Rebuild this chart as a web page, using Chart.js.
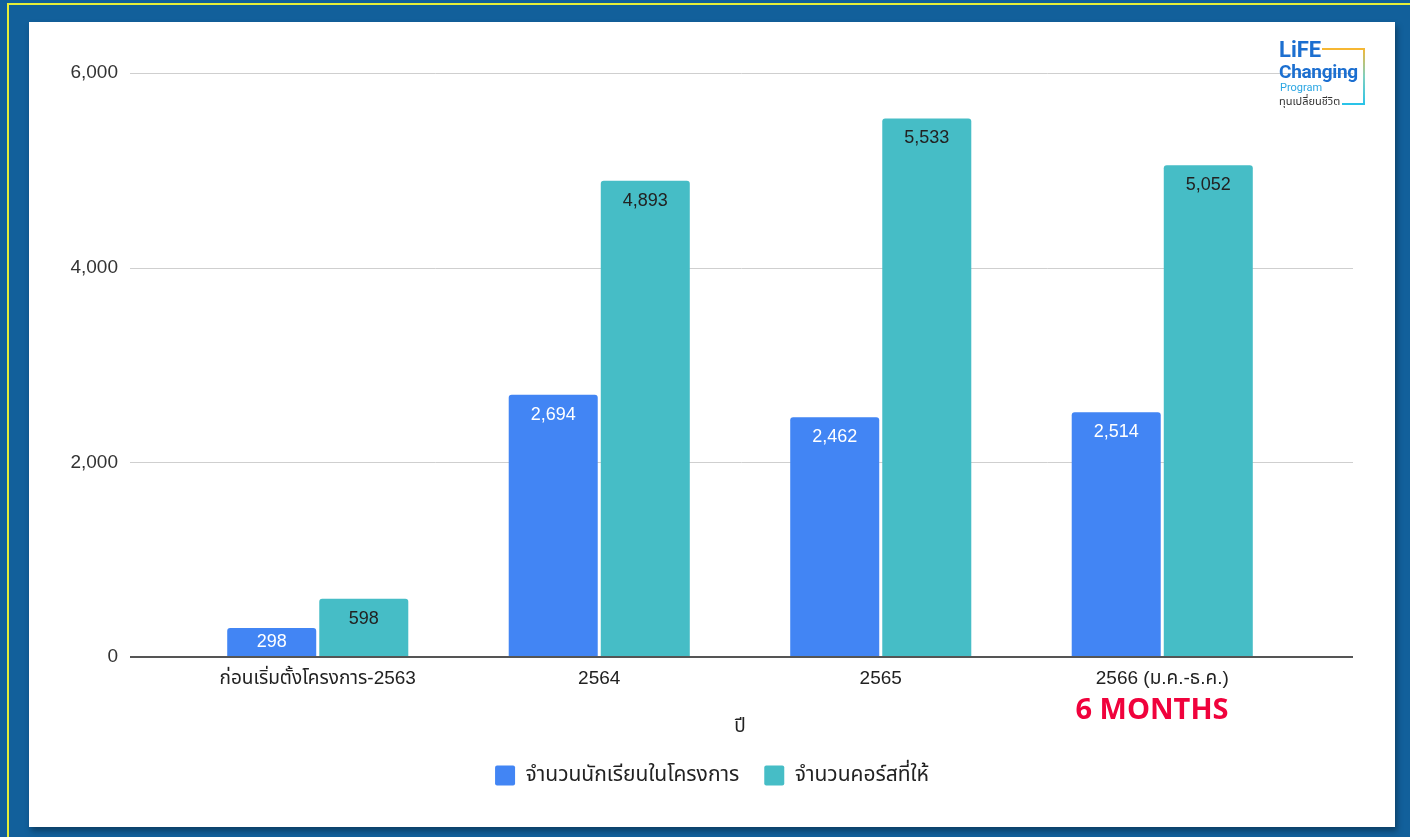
<!DOCTYPE html>
<html>
<head>
<meta charset="utf-8">
<script src="https://cdn.jsdelivr.net/npm/chart.js@4.4.0/dist/chart.umd.min.js"></script>
<style>
  html, body { margin:0; padding:0; }
  body { width:1410px; height:837px; background:#12609b; position:relative; overflow:hidden; font-family:"Liberation Sans", Arial, sans-serif; }
  #frame { position:absolute; left:7px; top:3px; width:1450px; height:900px; border:2px solid #e6ef3a; box-sizing:border-box; }
  #panel { position:absolute; left:29px; top:22px; width:1366px; height:805px; background:#fff; box-shadow:2px 4px 6px rgba(0,0,0,0.35); }
  #c { position:absolute; left:0; top:0; }
  #months { position:absolute; left:1053px; top:666px; width:140px; text-align:center; font-family:"Open Sans", sans-serif; font-weight:700; font-size:29px; color:#f0023c; white-space:nowrap; display:flex; justify-content:center; }
  #logo { position:absolute; left:1250px; top:17px; width:90px; height:90px; }
  .lg1 { position:absolute; left:0; top:0; font-family:"Roboto", Arial, sans-serif; font-weight:700; font-size:22px; color:#1c6fd0; line-height:22px; }
  .lg2 { position:absolute; left:0; top:22px; font-family:"Roboto", Arial, sans-serif; font-weight:700; font-size:19px; color:#1c6fd0; line-height:22px; letter-spacing:-0.3px; }
  .lg3 { position:absolute; left:1px; top:43px; font-family:"Roboto", Arial, sans-serif; font-size:11px; color:#2aa6e3; line-height:12px; }
  .lg4 { position:absolute; left:0px; top:56px; font-family:"Noto Sans Thai","Noto Sans", sans-serif; font-size:11px; color:#333; line-height:14px; white-space:nowrap; }
  .ln-top { position:absolute; left:43px; top:9px; width:43px; height:2px; background:#f6b733; }
  .ln-right { position:absolute; left:84px; top:9px; width:2px; height:57px; background:linear-gradient(#f6b733,#7fd0c0,#2ac3e8); }
  .ln-bot { position:absolute; left:63px; top:64px; width:23px; height:2px; background:#2ac3e8; }
</style>
</head>
<body>
<div id="frame"></div>
<div id="panel">
  <canvas id="c" width="1366" height="805"></canvas>
  <div id="months">6 MONTHS</div>
  <div id="logo">
    <div class="ln-top"></div><div class="ln-right"></div><div class="ln-bot"></div>
    <div class="lg1">LiFE</div>
    <div class="lg2">Changing</div>
    <div class="lg3">Program</div>
    <div class="lg4">ทุนเปลี่ยนชีวิต</div>
  </div>
</div>
<script>
const categories = ["ก่อนเริ่มตั้งโครงการ-2563", "2564", "2565", "2566 (ม.ค.-ธ.ค.)"];
const seriesNames = ["จำนวนนักเรียนในโครงการ", "จำนวนคอร์สที่ให้"];
const students = [298, 2694, 2462, 2514];
const courses = [598, 4893, 5533, 5052];
const yTicks = [0, 2000, 4000, 6000];
const xTitle = "ปี";

const FONT = "'Liberation Sans', Arial, 'Noto Sans Thai', sans-serif";
Chart.defaults.font.family = FONT;

const extendGrid = {
  id: 'extendGrid',
  beforeDatasetsDraw(chart) {
    const {ctx, chartArea, scales} = chart;
    const l = chartArea.left - 47, r = chartArea.right + 50;
    ctx.save();
    ctx.strokeStyle = '#cfcfcf';
    ctx.lineWidth = 1;
    yTicks.forEach(v => {
      if (v === 0) return;
      const y = Math.round(scales.y.getPixelForValue(v)) + 0.5;
      ctx.beginPath(); ctx.moveTo(l, y); ctx.lineTo(r, y); ctx.stroke();
    });
    ctx.restore();
  },
  afterDatasetsDraw(chart) {
    const {ctx, chartArea, scales} = chart;
    const l = chartArea.left - 47, r = chartArea.right + 50;
    const y0 = scales.y.getPixelForValue(0);
    ctx.save();
    ctx.strokeStyle = '#555';
    ctx.lineWidth = 2;
    ctx.beginPath(); ctx.moveTo(l, y0); ctx.lineTo(r, y0); ctx.stroke();
    ctx.font = "18px " + FONT;
    ctx.textAlign = 'center';
    ctx.textBaseline = 'middle';
    chart.data.datasets.forEach((ds, di) => {
      const meta = chart.getDatasetMeta(di);
      meta.data.forEach((bar, i) => {
        const v = ds.data[i];
        const top = bar.y, base = bar.base;
        const y = Math.min(top + 20, (top + base) / 2);
        ctx.fillStyle = di === 0 ? '#ffffff' : '#222222';
        ctx.fillText(v.toLocaleString('en-US'), bar.x, y);
      });
    });
    ctx.restore();
  }
};

new Chart(document.getElementById('c'), {
  type: 'bar',
  data: {
    labels: categories,
    datasets: [
      { label: seriesNames[0], data: students, backgroundColor: '#4285f4',
        borderRadius: {topLeft: 3, topRight: 3}, borderSkipped: 'bottom' },
      { label: seriesNames[1], data: courses, backgroundColor: '#46bdc6',
        borderRadius: {topLeft: 3, topRight: 3}, borderSkipped: 'bottom' }
    ]
  },
  options: {
    responsive: false,
    animation: false,
    devicePixelRatio: 1,
    layout: { padding: { left: 0, right: 0, top: 51, bottom: 31 } },
    datasets: { bar: { categoryPercentage: 0.654, barPercentage: 0.967 } },
    plugins: {
      legend: {
        position: 'bottom',
        labels: {
          boxWidth: 20, boxHeight: 20, padding: 25,
          color: '#222', font: { size: 21 },
          useBorderRadius: true, borderRadius: 2
        }
      },
      tooltip: { enabled: false }
    },
    scales: {
      x: {
        grid: { display: false },
        border: { display: false },
        ticks: { color: '#222', font: { size: 19 }, padding: 2, maxRotation: 0 },
        title: { display: true, text: xTitle, color: '#222', font: { size: 19 }, padding: { top: 4, bottom: 2 } },
        afterFit(s) { s.height = 83; }
      },
      y: {
        min: 0, max: 6000,
        grid: { display: true, drawOnChartArea: false, drawTicks: true, tickLength: 59, tickColor: 'rgba(0,0,0,0)' },
        border: { display: false },
        ticks: { stepSize: 2000, color: '#333', font: { size: 19 }, padding: 0 },
        afterFit(s) { s.width = 148; }
      },
      yRightSpace: {
        type: 'linear',
        position: 'right',
        grid: { display: false, drawTicks: false },
        border: { display: false },
        ticks: { display: false },
        afterFit(s) { s.width = 92; }
      }
    }
  },
  plugins: [extendGrid]
});
</script>
</body>
</html>
